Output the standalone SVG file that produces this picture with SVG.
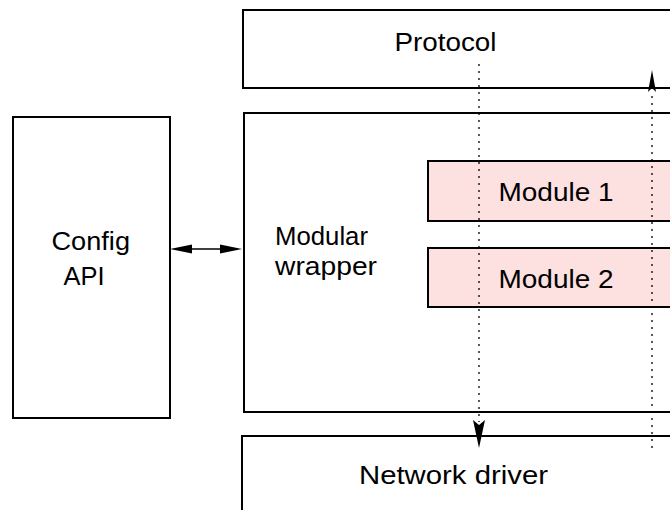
<svg xmlns="http://www.w3.org/2000/svg" width="670" height="510" viewBox="0 0 670 510">
<style>
.box{fill:#ffffff;stroke:#000;stroke-width:2}
.mod{fill:#fde0e0;stroke:#000;stroke-width:2}
.t{font-family:"Liberation Sans",Arial,sans-serif;font-size:26.5px;fill:#000}
.dot{stroke:#000;stroke-width:1.3;stroke-dasharray:2 5;fill:none}
.ln{stroke:#000;stroke-width:1.5;fill:none}
.ah{fill:#000;stroke:none}
</style>
<rect width="670" height="510" fill="#fff"/>
<g id="protocol">
<rect class="box" x="243" y="10" width="450" height="78"/>
<text class="t" x="394.5" y="51" textLength="102" lengthAdjust="spacingAndGlyphs">Protocol</text>
</g>
<g id="wrapper">
<rect class="box" x="244" y="113" width="450" height="299"/>
<text class="t" x="275" y="245" textLength="93" lengthAdjust="spacingAndGlyphs">Modular</text>
<text class="t" x="275" y="275" textLength="102" lengthAdjust="spacingAndGlyphs">wrapper</text>
</g>
<g id="module1">
<rect class="mod" x="428" y="161" width="260" height="60"/>
<text class="t" x="498.5" y="200.5" textLength="115" lengthAdjust="spacingAndGlyphs">Module 1</text>
</g>
<g id="module2">
<rect class="mod" x="428" y="248" width="260" height="59"/>
<text class="t" x="498.5" y="287.5" textLength="115" lengthAdjust="spacingAndGlyphs">Module 2</text>
</g>
<g id="network">
<rect class="box" x="242" y="436" width="450" height="90"/>
<text class="t" x="359" y="483.5" textLength="189" lengthAdjust="spacingAndGlyphs">Network driver</text>
</g>
<g id="config">
<rect class="box" x="13" y="117" width="157" height="301"/>
<text class="t" x="51.5" y="250" textLength="78.5" lengthAdjust="spacingAndGlyphs">Config</text>
<text class="t" x="63.5" y="285" textLength="41" lengthAdjust="spacingAndGlyphs">API</text>
</g>
<g id="connectors">
<line class="ln" x1="190" y1="249" x2="222" y2="249"/>
<polygon class="ah" points="170,249 192,244.5 192,253.5"/>
<polygon class="ah" points="242,249 220,244.5 220,253.5"/>
<line class="dot" x1="479" y1="64" x2="479" y2="422"/>
<polygon class="ah" points="479,448 473,420 479,425 485,420"/>
<line class="dot" x1="652" y1="448" x2="652" y2="92"/>
<polygon class="ah" points="652,70 648,92 652,88 656,92"/>
</g>
</svg>
